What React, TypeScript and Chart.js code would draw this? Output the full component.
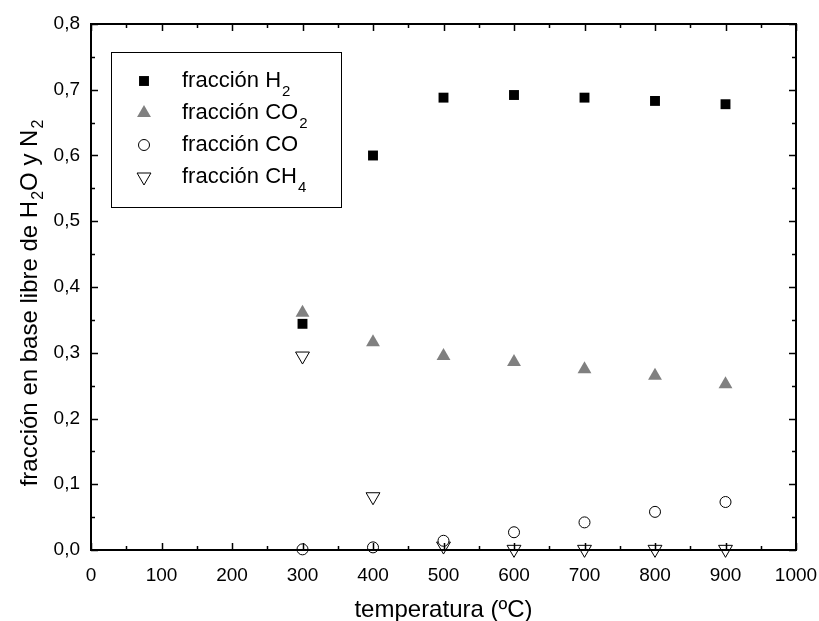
import React, { useEffect, useRef } from "react";
import { Chart, registerables } from "chart.js";
import { drawPoint } from "chart.js/helpers";

Chart.register(...registerables);

const temperatures = [300, 400, 500, 600, 700, 800, 900];
const h2Values = [0.344, 0.6, 0.688, 0.692, 0.688, 0.683, 0.678];
const co2Values = [0.361, 0.316, 0.295, 0.286, 0.275, 0.265, 0.252];
const coValues = [0.001, 0.004, 0.014, 0.027, 0.042, 0.058, 0.073];
const ch4Values = [0.295, 0.081, 0.006, 0.001, 0.001, 0.001, 0.001];

const xTicks = [0, 100, 200, 300, 400, 500, 600, 700, 800, 900, 1000];
const yTicks = [0, 0.1, 0.2, 0.3, 0.4, 0.5, 0.6, 0.7, 0.8];

const legendParts: [string, string][] = [
  ["fracción H", "2"],
  ["fracción CO", "2"],
  ["fracción CO", ""],
  ["fracción CH", "4"],
];

const FONT = "'Liberation Sans', Arial, Helvetica, sans-serif";

const framePlugin = {
  id: "frame",
  afterDraw(chart: any) {
    const { ctx, chartArea: a, scales } = chart;
    const xs = scales.x;
    const ys = scales.y;
    ctx.save();
    ctx.strokeStyle = "#000";
    ctx.lineWidth = 2;
    ctx.strokeRect(a.left, a.top, a.right - a.left, a.bottom - a.top);
    ctx.lineWidth = 1.5;
    ctx.beginPath();
    for (let v = 0; v <= 1000; v += 50) {
      const px = Math.round(xs.getPixelForValue(v)) + 0.5;
      const len = v % 100 === 0 ? 7 : 4;
      ctx.moveTo(px, a.bottom);
      ctx.lineTo(px, a.bottom - len);
      ctx.moveTo(px, a.top);
      ctx.lineTo(px, a.top + len);
    }
    for (let i = 0; i <= 16; i++) {
      const v = i * 0.05;
      const py = Math.round(ys.getPixelForValue(v)) + 0.5;
      const len = i % 2 === 0 ? 7 : 4;
      ctx.moveTo(a.left, py);
      ctx.lineTo(a.left + len, py);
      ctx.moveTo(a.right, py);
      ctx.lineTo(a.right - len, py);
    }
    ctx.stroke();

    ctx.fillStyle = "#000";
    ctx.font = `24px ${FONT}`;
    ctx.textAlign = "center";
    ctx.textBaseline = "alphabetic";
    ctx.fillText("temperatura (ºC)", (a.left + a.right) / 2, 617);

    const parts: [string, boolean][] = [
      ["fracción en base libre de H", false],
      ["2", true],
      ["O y N", false],
      ["2", true],
    ];
    ctx.save();
    ctx.translate(37, 304);
    ctx.rotate(-Math.PI / 2);
    let total = 0;
    for (const [t, sub] of parts) {
      ctx.font = sub ? `16px ${FONT}` : `24px ${FONT}`;
      total += ctx.measureText(t).width;
    }
    let cx = -total / 2;
    ctx.textAlign = "left";
    ctx.textBaseline = "alphabetic";
    for (const [t, sub] of parts) {
      ctx.font = sub ? `16px ${FONT}` : `24px ${FONT}`;
      ctx.fillText(t, cx + (sub ? 1 : 0), sub ? 6 : 0);
      cx += ctx.measureText(t).width + (sub ? 1 : 0);
    }
    ctx.restore();

    ctx.lineWidth = 1;
    ctx.strokeStyle = "#000";
    ctx.strokeRect(111.5, 52.5, 230, 155);
    chart.data.datasets.forEach((ds: any, i: number) => {
      const y = 81 + i * 32;
      ctx.save();
      ctx.fillStyle = ds.pointBackgroundColor;
      ctx.strokeStyle = ds.pointBorderColor;
      ctx.lineWidth = ds.pointBorderWidth;
      drawPoint(
        ctx,
        {
          pointStyle: ds.pointStyle,
          rotation: ds.pointRotation || 0,
          radius: ds.pointRadius,
          borderWidth: ds.pointBorderWidth,
        } as any,
        144,
        y
      );
      ctx.restore();
      const [main, sub] = legendParts[i];
      ctx.fillStyle = "#000";
      ctx.textAlign = "left";
      ctx.textBaseline = "middle";
      ctx.font = `22px ${FONT}`;
      ctx.fillText(main, 182, y);
      const w = ctx.measureText(main).width;
      if (sub) {
        ctx.font = `15px ${FONT}`;
        ctx.fillText(sub, 182 + w + 1, y + 11);
      }
    });
    ctx.restore();
  },
};

export default function App() {
  const ref = useRef<HTMLCanvasElement>(null);
  useEffect(() => {
    document.body.style.margin = "0";
    const mk = (v: number[]) => temperatures.map((t, i) => ({ x: t, y: v[i] }));
    const chart = new Chart(ref.current!, {
      type: "scatter",
      data: {
        datasets: [
          {
            label: "fracción H2",
            data: mk(h2Values),
            pointStyle: "rect",
            pointRadius: 7,
            pointBackgroundColor: "#000",
            pointBorderColor: "#000",
            pointBorderWidth: 0,
          },
          {
            label: "fracción CO2",
            data: mk(co2Values),
            pointStyle: "triangle",
            pointRadius: 8,
            pointBackgroundColor: "#808080",
            pointBorderColor: "#808080",
            pointBorderWidth: 0,
          },
          {
            label: "fracción CO",
            data: mk(coValues),
            pointStyle: "circle",
            pointRadius: 5.5,
            pointBackgroundColor: "#fff",
            pointBorderColor: "#000",
            pointBorderWidth: 1,
          },
          {
            label: "fracción CH4",
            data: mk(ch4Values),
            pointStyle: "triangle",
            pointRotation: 180,
            pointRadius: 8,
            pointBackgroundColor: "#fff",
            pointBorderColor: "#000",
            pointBorderWidth: 1,
          },
        ] as any,
      },
      options: {
        animation: false,
        responsive: false,
        clip: false as any,
        layout: { padding: { left: 0, right: 23, top: 24, bottom: 0 } },
        plugins: { legend: { display: false }, tooltip: { enabled: false } },
        scales: {
          x: {
            type: "linear",
            min: 0,
            max: 1000,
            afterBuildTicks: (s: any) => {
              s.ticks = xTicks.map((v) => ({ value: v }));
            },
            afterFit: (s: any) => {
              s.height = 71;
              s.paddingLeft = 0;
              s.paddingRight = 0;
            },
            grid: { display: false, drawTicks: false },
            border: { display: false },
            ticks: {
              color: "#000",
              padding: 14,
              font: { family: FONT, size: 19 },
              maxRotation: 0,
              callback: (v: any) => String(v),
            },
          },
          y: {
            type: "linear",
            min: 0,
            max: 0.8,
            afterBuildTicks: (s: any) => {
              s.ticks = yTicks.map((v) => ({ value: v }));
            },
            afterFit: (s: any) => {
              s.width = 91;
              s.paddingTop = 0;
              s.paddingBottom = 0;
            },
            grid: { display: false, drawTicks: false },
            border: { display: false },
            ticks: {
              color: "#000",
              padding: 11,
              font: { family: FONT, size: 19 },
              callback: (v: any) => Number(v).toFixed(1).replace(".", ","),
            },
          },
        },
      },
      plugins: [framePlugin],
    });
    return () => chart.destroy();
  }, []);
  return (
    <div style={{ position: "absolute", left: 0, top: 0, width: 819, height: 621, background: "#fff" }}>
      <canvas ref={ref} width={819} height={621} style={{ width: 819, height: 621 }} />
    </div>
  );
}
